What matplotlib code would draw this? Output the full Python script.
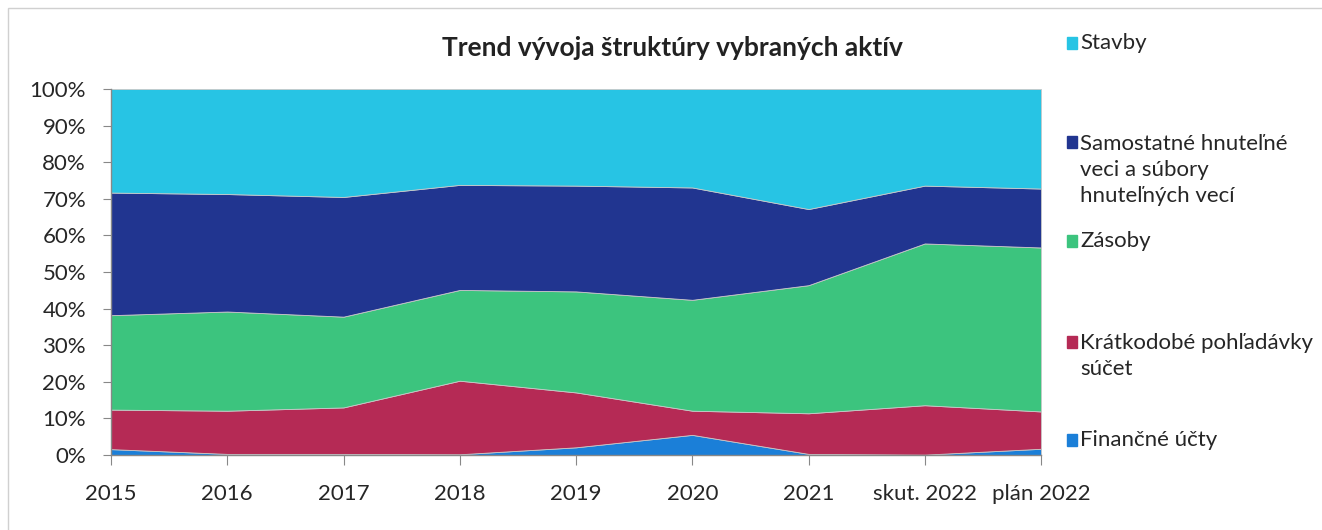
import numpy as np
import matplotlib
matplotlib.use("Agg")
import matplotlib.pyplot as plt
from matplotlib.patches import Rectangle

plt.rcParams['font.family'] = ['Lato', 'DejaVu Sans']

# categories and shares (%)
years = ['2015', '2016', '2017', '2018', '2019', '2020', '2021', 'skut. 2022', 'plán 2022']
financne = [1.6, 0.3, 0.3, 0.2, 2.1, 5.5, 0.3, 0.1, 1.7]
kratkodobe = [10.8, 11.8, 12.7, 20.1, 15.0, 6.6, 11.1, 13.5, 10.2]
zasoby = [25.8, 27.1, 24.8, 24.8, 27.6, 30.3, 35.0, 44.2, 44.8]
samostatne = [33.5, 32.1, 32.7, 28.7, 28.9, 30.7, 20.8, 15.8, 16.1]
stavby = [28.3, 28.7, 29.5, 26.2, 26.4, 26.9, 32.8, 26.4, 27.2]

labels = ['Finančné účty', 'Krátkodobé pohľadávky\nsúčet', 'Zásoby',
          'Samostatné hnuteľné\nveci a súbory\nhnuteľných vecí', 'Stavby']
colors = ['#1b7fd8', '#b52a55', '#3cc47e', '#213590', '#27c4e4']

series = np.array([financne, kratkodobe, zasoby, samostatne, stavby])
shares = series / series.sum(axis=0) * 100

fig = plt.figure(figsize=(13.22, 5.30), dpi=100)
ax = fig.add_axes([111 / 1322, 1 - 455 / 530, 930 / 1322, 366 / 530])

x = np.arange(len(years))
ax.stackplot(x, shares, colors=colors, linewidth=0.6, edgecolor='#c8c8c8')

ax.set_xlim(0, len(years) - 1)
ax.set_ylim(0, 100)
ax.set_yticks(np.arange(0, 101, 10))
ax.set_yticklabels([f'{v}%' for v in range(0, 101, 10)], fontsize=16, color='#262626')
ax.set_xticks(x)
ax.set_xticklabels(years, fontsize=16, color='#262626')
ax.tick_params(axis='y', length=6, color='#888888', pad=12)
ax.tick_params(axis='x', length=7, color='#888888', pad=14)
for s in ['top', 'right']:
    ax.spines[s].set_visible(False)
for s in ['left', 'bottom']:
    ax.spines[s].set_color('#888888')
    ax.spines[s].set_linewidth(1.0)

fig.text(672 / 1322, 1 - 48 / 530, 'Trend vývoja štruktúry vybraných aktív',
         ha='center', va='center', fontsize=19, fontweight='bold', color='#222222')

# legend, laid out like the original
leg_y = [440, 356, 241, 170, 43]
for lab, col, yy in zip(labels, colors, leg_y):
    nlines = lab.count('\n') + 1
    top = yy - (nlines - 1) * 14
    fig.patches.append(Rectangle((1067 / 1322, 1 - (top + 6) / 530), 10 / 1322, 12 / 530,
                                 transform=fig.transFigure, color=col, figure=fig))
    fig.text(1080 / 1322, 1 - yy / 530, lab, ha='left', va='center', fontsize=16,
             color='#262626', linespacing=1.37)

# light chart frame
fig.patches.append(Rectangle((8 / 1322, -0.05), 1.1, 1 - 8 / 530 + 0.05,
                             transform=fig.transFigure, fill=False, edgecolor='#d0d0d0',
                             linewidth=1.0, figure=fig))

fig.savefig('out.png', dpi=100)
